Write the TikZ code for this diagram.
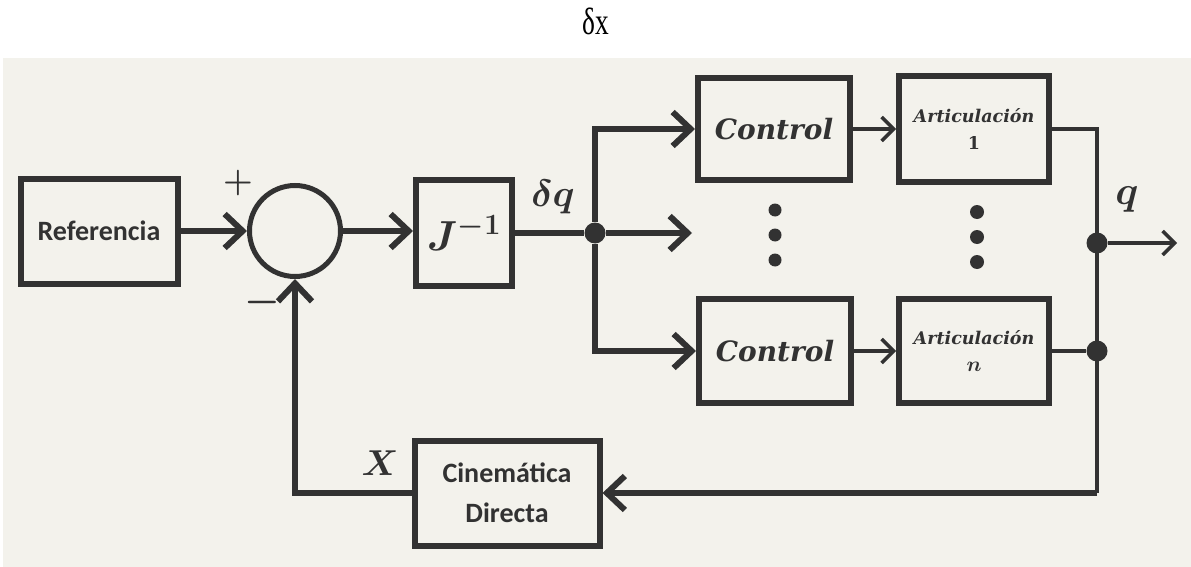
\RequirePackage{fix-cm}
\documentclass[tikz,border=0pt]{standalone}
\usepackage{fontspec}
\usepackage{bm}
\setmainfont{Carlito}
\newfontfamily\serifit{DejaVu Serif}
\newfontfamily\greekfont{Liberation Serif}
\usetikzlibrary{arrows.meta}

\definecolor{paper}{RGB}{243,242,236}
\definecolor{ink}{RGB}{50,50,50}

\begin{document}
\begin{tikzpicture}[x=1pt, y=-1pt,
  block/.style={draw=ink, line width=6pt, fill=paper, inner sep=0pt, text=ink, align=center},
  link/.style={draw=ink, line width=6pt},
  flow/.style={link, -{Straight Barb[length=18pt,width=34pt]}},
  slim/.style={draw=ink, line width=3.5pt},
  slimflow/.style={slim, -{Straight Barb[length=12pt,width=24pt]}},
  dot/.style={circle, fill=ink, inner sep=0pt, minimum size=21pt},
  ctrltext/.style={font=\serifit\bfseries\itshape\fontsize{28}{28}\selectfont},
  arttext/.style={font=\serifit\bfseries\itshape\fontsize{17.5}{27}\selectfont}]
  \useasboundingbox (0,0) rectangle (1191,567);

  % scanned page
  \fill[paper] (3,58) rectangle (1191,567);
  \node[font=\greekfont\fontsize{38}{38}\selectfont] (title) at (596,21) {\scalebox{0.72}[1]{δx}};

  % Blocks
  \node[block, minimum width=157pt, minimum height=105pt,
        font=\bfseries\fontsize{28}{28}\selectfont] (ref) at (99,231) {Referencia};
  \node[draw=ink, circle, line width=5pt, fill=paper, minimum size=91pt] (sum) at (295,231) {};
  \node[block, minimum width=96pt, minimum height=106pt,
        font=\fontsize{42}{42}\selectfont] (jinv) at (464,233) {$\bm{J^{-1}}$};
  \node[block, ctrltext, minimum width=152pt, minimum height=102pt] (ctrl1) at (774,129) {Control};
  \node[block, ctrltext, minimum width=152pt, minimum height=104pt] (ctrl2) at (775,351) {Control};
  \node[block, arttext, minimum width=150pt, minimum height=105pt] (art1) at (974,129) {Articulación\\\upshape 1};
  \node[block, arttext, minimum width=150pt, minimum height=104pt] (art2) at (974,351)
    {Articulación\\{\fontsize{21}{21}\selectfont$\bm{n}$}};
  \node[block, minimum width=185pt, minimum height=105pt,
        font=\bfseries\fontsize{28}{40}\selectfont] (cin) at (507,493) {Cinemática\\Directa};

  % Branch points
  \node[dot] (split) at (595,233) {};
  \node[dot] (qdot) at (1097,243) {};
  \node[dot] (ndot) at (1097,351) {};
  \coordinate (mid) at (692,233);
  \coordinate (qout) at (1177,243);
  \coordinate (bend) at (1097,493);

  % Forward path
  \draw[flow] (ref.east) -- (sum.west);
  \draw[flow] (sum.east) -- (sum.east -| jinv.west);
  \draw[link] (jinv.east |- split) -- (split);
  \draw[flow] (split) |- (ctrl1);
  \draw[flow] (split) -- (mid);
  \draw[flow] (split) |- (ctrl2);
  \draw[slimflow] (ctrl1) -- (art1);
  \draw[slimflow] (ctrl2) -- (art2);

  % Output and feedback
  \draw[slim] (art1) -| (bend);
  \draw[slim] (art2) -- (ndot);
  \draw[slimflow] (qdot) -- (qout);
  \draw[flow] (bend) -- (cin.east);
  \draw[flow] (cin.west) -| (sum.south);

  % Vertical dots
  \foreach \y in {210,235,260} {
    \fill[ink] (775,\y) circle (6.5pt);
    \fill[ink] (977,\y+2) circle (7pt);
  }

  % Signs and signal labels
  \node[text=ink, font=\fontsize{34}{34}\selectfont] (plus) at (238,183) {$\bm{+}$};
  \node[text=ink, font=\fontsize{40}{40}\selectfont] (minus) at (262,302) {$\bm{-}$};
  \node[text=ink, font=\fontsize{38}{38}\selectfont] (dq) at (553,197) {$\bm{\delta q}$};
  \node[text=ink, font=\fontsize{40}{40}\selectfont] (qlab) at (1127,199) {$\bm{q}$};
  \node[text=ink, font=\fontsize{36}{36}\selectfont] (xlab) at (380,463) {$\bm{X}$};
\end{tikzpicture}
\end{document}
